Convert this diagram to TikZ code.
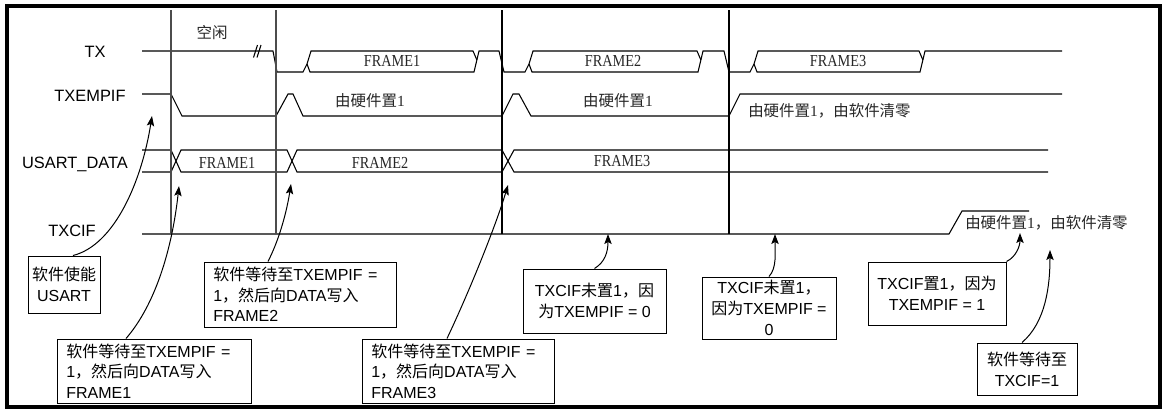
\documentclass[tikz,border=0pt]{standalone}
\usepackage{fontspec}
\setmainfont{Liberation Sans}
\newfontfamily\zh{Noto Sans CJK SC}
\newfontfamily\ser{Liberation Serif}
\usetikzlibrary{arrows.meta}
\begin{document}
\begin{tikzpicture}[x=0.75pt,y=-0.75pt,
  sig/.style={line width=0.8pt,black},
  vline/.style={line width=0.9pt},
  lbl/.style={font=\fontsize{12.3}{14}\selectfont,inner sep=0pt},
  frm/.style={font=\fontsize{12.6}{14}\selectfont\ser,inner sep=0pt,text=black!85},
  wlbl/.style={font=\fontsize{11.6}{14}\selectfont,inner sep=0pt,text=black!85},
  boxl/.style={draw,line width=0.75pt,inner xsep=7pt,inner ysep=0pt,align=left,
    font=\fontsize{12}{15.5}\selectfont},
  boxc/.style={draw,line width=0.75pt,inner xsep=3pt,inner ysep=0pt,align=center,
    font=\fontsize{12}{15.5}\selectfont},
  arr/.style={line width=0.75pt,-{Stealth[length=7.5pt,width=5.5pt,inset=1.5pt]}}
]
\useasboundingbox (0,0) rectangle (1166,412);
\draw[line width=3pt] (7,6) rectangle (1160,407);

% signal names
\node[lbl] (ltx) at (95,52) {TX};
\node[lbl] (ltxe) at (90,96) {TXEMPIF};
\node[lbl] (lud) at (75,164) {USART\_DATA};
\node[lbl] (ltxc) at (72,231) {TXCIF};

% TX waveform
\draw[sig] (142,51)--(273,51)--(277,72)--(303,72)--(307,64)--(311,51)--(473,51)--(476.9,60);
\draw[sig] (307,64)--(310,72)--(474,72)--(479,51)--(499,51)--(504,72)--(525,72)--(529,64)--(533,51)--(697,51)--(700.9,60);
\draw[sig] (529,64)--(532,72)--(698,72)--(703,51)--(724,51)--(729,72)--(750,72)--(754,64)--(758,51)--(919,51)--(922.9,60);
\draw[sig] (754,64)--(757,72)--(920,72)--(925,51)--(1062,51);
\draw[sig] (253.5,57.5)--(257.5,45) (257,57.5)--(261,45);

% TXEMPIF waveform
\draw[sig] (142,94)--(171,94)--(182,116)--(276,116)--(288,94)--(293,94)--(303,116)--(502,116)--(513,94)--(519,94)--(531,116)--(729,116)--(740,94)--(1062,94);

% USART_DATA waveform
\draw[sig] (142,150)--(171,150)--(181,172)--(287,172)--(297,150)--(502,150)--(514,172)--(1048,172);
\draw[sig] (142,172)--(171,172)--(181,150)--(287,150)--(297,172)--(502,172)--(514,150)--(1048,150);

% TXCIF waveform
\draw[sig] (142,234)--(949,234)--(962,211)--(1029,211);

% vertical markers
\draw[vline,black!70] (171,10)--(171,234);
\draw[vline,black!70] (276,10)--(276,234);
\draw[vline] (502,10)--(502,234);
\draw[vline] (729,10)--(729,234);

% waveform labels
\node[wlbl] (idle) at (212,33) {{\zh 空闲}};
\node[frm] (f1) at (392,61) {\scalebox{0.85}[1]{FRAME1}};
\node[frm] (f2) at (613,61) {\scalebox{0.85}[1]{FRAME2}};
\node[frm] (f3) at (838,61) {\scalebox{0.85}[1]{FRAME3}};
\node[wlbl] (h1) at (370,101) {{\zh 由硬件置}{\ser 1}};
\node[wlbl] (h2) at (618,101) {{\zh 由硬件置}{\ser 1}};
\node[wlbl,anchor=west] (h3) at (748,111) {{\zh 由硬件置}{\ser 1}{\zh ，由软件清零}};
\node[frm] (d1) at (227,163) {\scalebox{0.85}[1]{FRAME1}};
\node[frm] (d2) at (380,163) {\scalebox{0.85}[1]{FRAME2}};
\node[frm] (d3) at (622,161) {\scalebox{0.85}[1]{FRAME3}};
\node[wlbl,anchor=west] (h4) at (965,223) {{\zh 由硬件置}{\ser 1}{\zh ，由软件清零}};

% boxes
\node[boxc,minimum width=54pt,minimum height=42.75pt] (a) at (64,284.5) {{\zh 软件使能}\\USART};
\node[boxl,text width=131.5pt,minimum height=48pt] (b) at (154,371) {{\zh 软件等待至}TXEMPIF =\\1{\zh ，然后向}DATA{\zh 写入}\\FRAME1};
\node[boxl,text width=130pt,minimum height=48.75pt] (c) at (300,294.5) {{\zh 软件等待至}TXEMPIF =\\1{\zh ，然后向}DATA{\zh 写入}\\FRAME2};
\node[boxl,text width=130pt,minimum height=48pt] (d) at (458,371) {{\zh 软件等待至}TXEMPIF =\\1{\zh ，然后向}DATA{\zh 写入}\\FRAME3};
\node[boxc,minimum width=107.25pt,minimum height=48pt] (e) at (594.5,301) {TXCIF{\zh 未置}1{\zh ，因}\\{\zh 为}TXEMPIF = 0};
\node[boxc,minimum width=100.5pt,minimum height=46.5pt] (f) at (769,308) {TXCIF{\zh 未置}1{\zh ，}\\{\zh 因为}TXEMPIF =\\0};
\node[boxc,minimum width=103.5pt,minimum height=47.25pt] (g) at (937,293.5) {TXCIF{\zh 置}1{\zh ，因为}\\TXEMPIF = 1};
\node[boxc,minimum width=75pt,minimum height=39pt] (h) at (1027,369) {{\zh 软件等待至}\\TXCIF=1};

% arrow targets
\coordinate (ta) at (152,116);
\coordinate (tb) at (179,186);
\coordinate (tc) at (291,184);
\coordinate (td) at (508,185);
\coordinate (te) at (608,234);
\coordinate (tf) at (775,234);
\coordinate (tg) at (1020,233);
\coordinate (th) at (1050,250);

% arrows
\draw[arr] ([xshift=6.75pt]a.north) .. controls (115,245) and (142,180) .. (ta);
\draw[arr] ([xshift=-21pt]b.north) .. controls (155,305) and (172,250) .. (tb);
\draw[arr] ([xshift=-24pt]c.north) .. controls (280,238) and (287,210) .. (tc);
\draw[arr] ([xshift=-8.25pt]d.north) .. controls (470,290) and (496,225) .. (td);
\draw[arr] (e.north) .. controls (605,262) and (608,252) .. (te);
\draw[arr] (f.north) .. controls (777,268) and (775,252) .. (tf);
\draw[arr] (g.north east) .. controls (1016,257) and (1020,246) .. (tg);
\draw[arr] ([xshift=-3.75pt]h.north) .. controls (1046,322) and (1050,285) .. (th);
\end{tikzpicture}
\end{document}
